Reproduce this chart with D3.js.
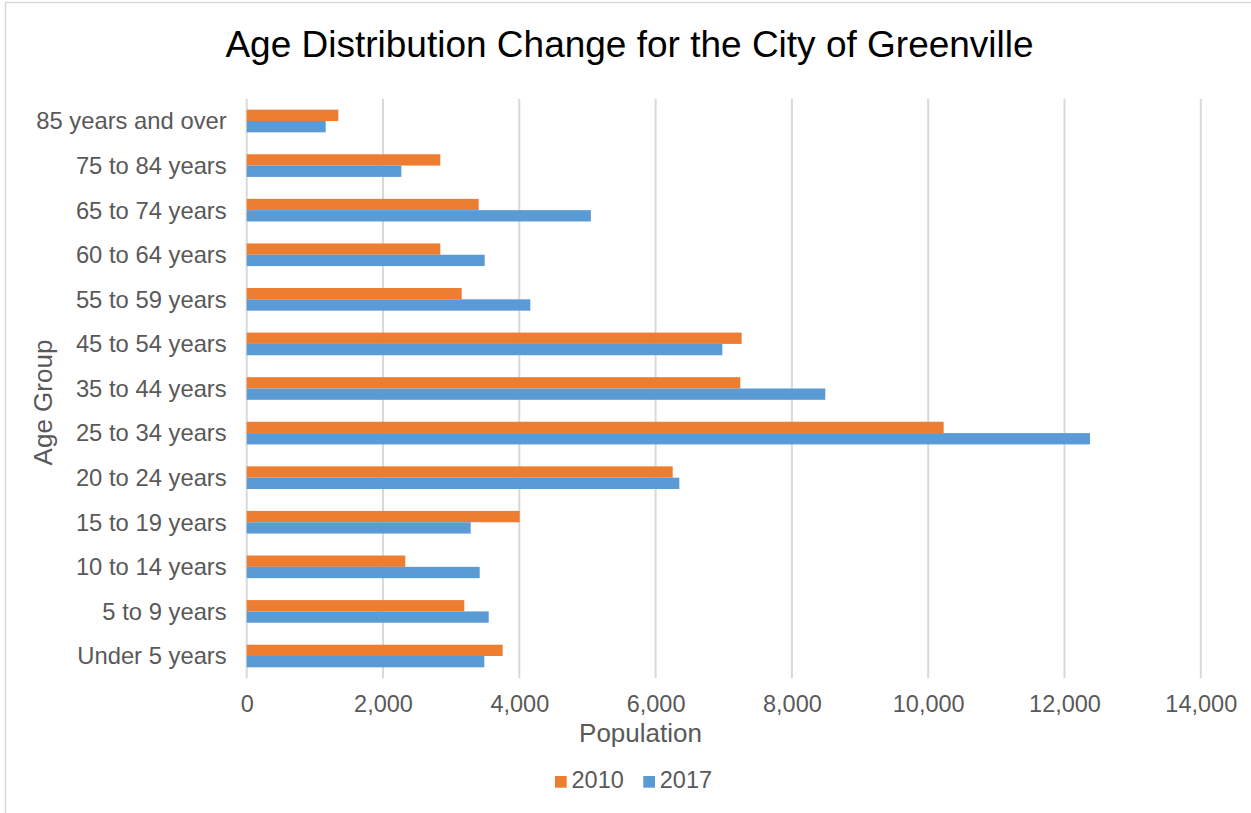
<!DOCTYPE html>
<html>
<head>
<meta charset="utf-8">
<script src="https://cdn.jsdelivr.net/npm/d3@7"></script>
<style>
  body { margin: 0; background: #fff; }
  text { font-family: "Liberation Sans", Arial, sans-serif; }
</style>
</head>
<body>
<div id="chart"></div>
<script>
// age groups, top to bottom as shown
var ageGroups = ["85 years and over", "75 to 84 years", "65 to 74 years", "60 to 64 years",
  "55 to 59 years", "45 to 54 years", "35 to 44 years", "25 to 34 years", "20 to 24 years",
  "15 to 19 years", "10 to 14 years", "5 to 9 years", "Under 5 years"];
var pop2010 = [1344, 2841, 3404, 2841, 3155, 7263, 7243, 10227, 6251, 4006, 2327, 3193, 3756];
var pop2017 = [1159, 2269, 5050, 3492, 4162, 6979, 8490, 12374, 6348, 3287, 3419, 3551, 3487];
var seriesNames = ["2010", "2017"];
var seriesColors = ["#ED7D31", "#5B9BD5"];
var xTicks = [0, 2000, 4000, 6000, 8000, 10000, 12000, 14000];

var W = 1251, H = 813;
var margin = {top: 98.7, left: 246.7, right: 50.2, bottom: 134.7};

var svg = d3.select("#chart").append("svg")
    .attr("width", W)
    .attr("height", H);

// outer chart border (right/bottom fall off the picture)
svg.append("rect")
    .attr("x", 5.5).attr("y", 2.5)
    .attr("width", 1270).attr("height", 830)
    .attr("fill", "#fff")
    .attr("stroke", "#d9d9d9")
    .attr("stroke-width", 1.5);

var x = d3.scaleLinear().domain([0, 14000]).range([margin.left, W - margin.right]);
var y0 = d3.scaleBand().domain(ageGroups).range([margin.top, H - margin.bottom]);
var y1 = d3.scaleBand().domain(seriesNames).range([0, y0.bandwidth()])
    .paddingInner(0).paddingOuter(0.97);

var rows = ageGroups.map(function(g, i) {
  return {group: g, values: [pop2010[i], pop2017[i]]};
});

// gridlines
svg.append("g")
  .selectAll("line")
  .data(xTicks)
  .join("line")
    .attr("x1", function(d) { return x(d); })
    .attr("x2", function(d) { return x(d); })
    .attr("y1", margin.top)
    .attr("y2", H - margin.bottom)
    .attr("stroke", "#d9d9d9")
    .attr("stroke-width", 2);

// bars
var grp = svg.append("g")
  .selectAll("g")
  .data(rows)
  .join("g")
    .attr("transform", function(d) { return "translate(0," + y0(d.group) + ")"; });

grp.selectAll("rect")
  .data(function(d) { return d.values.map(function(v, j) { return {s: seriesNames[j], v: v, c: seriesColors[j]}; }); })
  .join("rect")
    .attr("x", x(0))
    .attr("y", function(d) { return y1(d.s); })
    .attr("width", function(d) { return x(d.v) - x(0); })
    .attr("height", y1.bandwidth())
    .attr("fill", function(d) { return d.c; });

// x axis labels
var xAxis = svg.append("g")
    .attr("transform", "translate(0," + (H - margin.bottom) + ")")
    .call(d3.axisBottom(x).tickValues(xTicks).tickFormat(d3.format(",")).tickSize(0).tickPadding(17));
xAxis.select(".domain").remove();
xAxis.selectAll("text")
    .attr("fill", "#595959")
    .style("font-size", "23.5px")
    .style("font-family", "'Liberation Sans', Arial, sans-serif");

// y axis labels
var yAxis = svg.append("g")
    .attr("transform", "translate(" + (margin.left - 20) + ",0)")
    .call(d3.axisLeft(y0).tickSize(0).tickPadding(0));
yAxis.select(".domain").remove();
yAxis.selectAll("text")
    .attr("fill", "#595959")
    .attr("dy", "0.35em")
    .style("font-size", "23.8px")
    .style("font-family", "'Liberation Sans', Arial, sans-serif");

// title
svg.append("text")
    .attr("x", 629.5).attr("y", 57)
    .attr("text-anchor", "middle")
    .attr("fill", "#000")
    .style("font-size", "37px")
    .text("Age Distribution Change for the City of Greenville");

// axis titles
svg.append("text")
    .attr("x", 640.5).attr("y", 742)
    .attr("text-anchor", "middle")
    .attr("fill", "#595959")
    .style("font-size", "26px")
    .text("Population");

svg.append("text")
    .attr("transform", "translate(52,402.5) rotate(-90)")
    .attr("text-anchor", "middle")
    .attr("fill", "#595959")
    .style("font-size", "26px")
    .text("Age Group");

// legend
var legendX = [555, 643.3];
var legend = svg.append("g")
  .selectAll("g")
  .data(seriesNames)
  .join("g")
    .attr("transform", function(d, i) { return "translate(" + legendX[i] + ",776)"; });
legend.append("rect")
    .attr("width", 11.7).attr("height", 11.7)
    .attr("fill", function(d, i) { return seriesColors[i]; });
legend.append("text")
    .attr("x", 16.5).attr("y", 12.3)
    .attr("fill", "#595959")
    .style("font-size", "23.5px")
    .text(function(d) { return d; });
</script>
</body>
</html>
